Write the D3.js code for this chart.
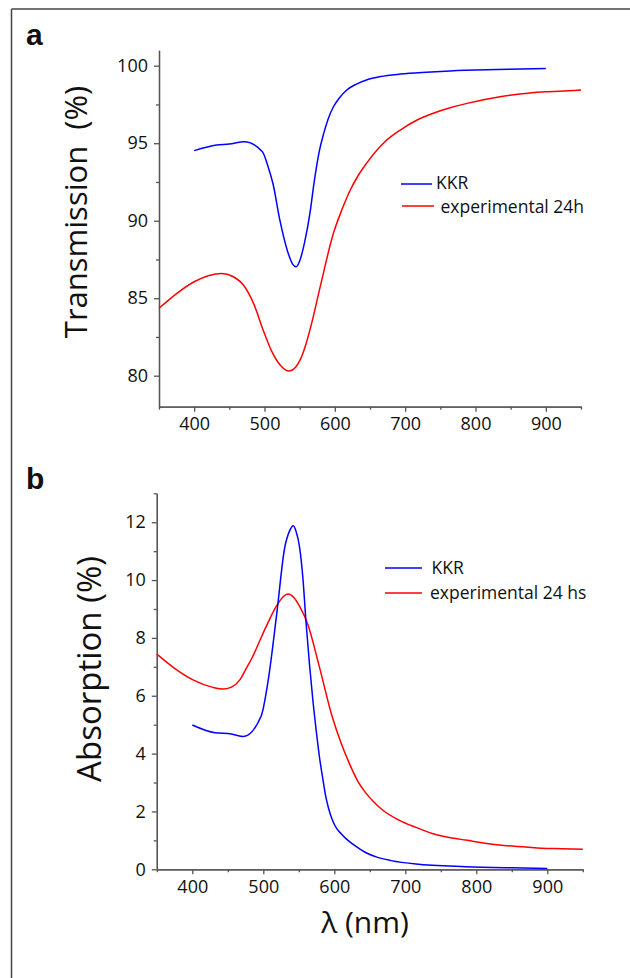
<!DOCTYPE html>
<html>
<head>
<meta charset="utf-8">
<script src="https://cdn.jsdelivr.net/npm/d3@7"></script>
<style>
  body { margin: 0; background: #fff; }
  svg text { font-family: "Open Sans", "Noto Sans", sans-serif; fill: #111; }
</style>
</head>
<body>
<div id="my_dataviz"></div>
<script>
// wavelength (nm) / value pairs
const transKKR = [[400,94.52],[432,94.88],[450,94.95],[471,95.1],[497,94.45],[505,93.5],[512,92.4],[522,90.0],[533,88.0],[540,87.2],[545,87.03],[550,87.4],[557,88.6],[565,90.6],[570,92.3],[578,94.5],[584,95.6],[590,96.5],[598,97.35],[607,97.95],[617,98.43],[630,98.8],[645,99.08],[665,99.3],[693,99.46],[730,99.58],[764,99.66],[830,99.75],[900,99.82]];
const transExp = [[350,84.35],[375,85.3],[400,86.06],[420,86.45],[439,86.6],[455,86.4],[470,85.85],[485,84.6],[498,82.95],[510,81.6],[522,80.7],[534,80.3],[545,80.6],[551,81.05],[558,81.9],[566,83.2],[579,85.7],[598,89.19],[610,90.7],[622,91.98],[633,92.9],[645,93.7],[669,95.0],[693,95.85],[715,96.45],[740,96.93],[765,97.3],[788,97.57],[835,98.0],[870,98.2],[899,98.32],[920,98.35],[950,98.43]];
const absKKR = [[400,4.99],[432,4.72],[455,4.68],[472,4.59],[497,5.30],[507,6.55],[519,8.85],[530,11.1],[537,11.7],[542,11.88],[546,11.7],[551,11.15],[556,10.0],[560,8.6],[565,7.1],[570,5.8],[575,4.7],[579,3.9],[584,3.1],[588,2.51],[592,2.1],[597,1.72],[603,1.42],[610,1.22],[616,1.07],[630,0.8],[644,0.58],[660,0.42],[680,0.3],[715,0.18],[785,0.09],[850,0.05],[900,0.03]];
const absExp = [[350,7.44],[375,6.95],[401,6.55],[429,6.29],[443,6.23],[455,6.3],[467,6.55],[476,6.95],[485,7.35],[495,7.9],[504,8.39],[518,9.08],[527,9.4],[535,9.52],[543,9.4],[551,9.1],[563,8.45],[579,7.0],[597,5.28],[609,4.4],[621,3.67],[633,3.05],[644,2.65],[656,2.32],[668,2.05],[691,1.70],[715,1.45],[738,1.24],[762,1.1],[785,1.01],[832,0.84],[870,0.77],[892,0.73],[920,0.71],[950,0.69]];

const xMajor = [400, 500, 600, 700, 800, 900];
const xMinor = [350, 450, 550, 650, 750, 850, 950];
const transMajor = [80, 85, 90, 95, 100];
const transMinor = [82.5, 87.5, 92.5, 97.5];
const absMajor = [0, 2, 4, 6, 8, 10, 12];
const absMinor = [1, 3, 5, 7, 9, 11, 13];

const legendA = ["KKR", " experimental 24h"];
const legendB = [" KKR", "experimental 24 hs"];

const width = 630, height = 978;

const svg = d3.select("#my_dataviz")
    .append("svg")
    .attr("width", width)
    .attr("height", height);

// frame lines (top + left only are visible)
svg.append("line").attr("x1", 11.5).attr("x2", width).attr("y1", 9).attr("y2", 9)
    .attr("stroke", "#444").attr("stroke-width", 1.5);
svg.append("line").attr("x1", 11.5).attr("x2", 11.5).attr("y1", 9).attr("y2", height)
    .attr("stroke", "#444").attr("stroke-width", 1.5);

function drawPanel(opt) {
    const x = d3.scaleLinear().domain([350, 950]).range(opt.xRange);
    const y = d3.scaleLinear().domain(opt.yDomain).range(opt.yRange);
    const g = svg.append("g");

    // x axis
    g.append("g")
        .attr("transform", `translate(0,${opt.yRange[0]})`)
        .call(d3.axisBottom(x).tickValues(xMajor).tickSize(5).tickSizeOuter(0).tickPadding(6));
    g.append("g")
        .attr("transform", `translate(0,${opt.yRange[0]})`)
        .call(d3.axisBottom(x).tickValues(xMinor).tickSize(3).tickSizeOuter(0).tickFormat(""));

    // y axis
    g.append("g")
        .attr("transform", `translate(${opt.xRange[0]},0)`)
        .call(d3.axisLeft(y).tickValues(opt.major).tickSize(5).tickSizeOuter(0).tickPadding(6));
    g.append("g")
        .attr("transform", `translate(${opt.xRange[0]},0)`)
        .call(d3.axisLeft(y).tickValues(opt.minor).tickSize(3).tickSizeOuter(0).tickFormat(""));

    g.selectAll(".domain, .tick line").attr("stroke", "#555").attr("stroke-width", 1.3);
    g.selectAll(".tick text").style("font-size", "18px").attr("fill", "#111");

    const line = d3.line()
        .x(d => x(d[0]))
        .y(d => y(d[1]))
        .curve(d3.curveMonotoneX);

    g.append("path").datum(opt.red).attr("d", line)
        .attr("fill", "none").attr("stroke", "#ff0000").attr("stroke-width", 1.5);
    g.append("path").datum(opt.blue).attr("d", line)
        .attr("fill", "none").attr("stroke", "#0000ff").attr("stroke-width", 1.5);

    // legend
    const colors = ["#0000ff", "#ff0000"];
    opt.legend.forEach((txt, i) => {
        const l = opt.legendPos[i];
        g.append("line")
            .attr("x1", l.x1).attr("x2", l.x2).attr("y1", l.y).attr("y2", l.y)
            .attr("stroke", colors[i]).attr("stroke-width", 1.5);
        g.append("text")
            .attr("x", l.tx).attr("y", l.ty)
            .style("font-size", "17.5px")
            .style("white-space", "pre")
            .text(txt);
    });

    // y label
    g.append("text")
        .attr("transform", `translate(${opt.yLabelX},${opt.yLabelY}) rotate(-90)`)
        .attr("text-anchor", "middle")
        .style("font-size", opt.yLabelSize)
        .style("white-space", "pre")
        .text(opt.yLabel);

    // panel letter
    g.append("text")
        .attr("x", 26).attr("y", opt.letterY)
        .style("font-family", "'Liberation Sans', Arial, sans-serif")
        .style("font-weight", "bold")
        .style("font-size", "30px")
        .text(opt.letter);
}

drawPanel({
    xRange: [159, 581],
    yDomain: [78, 101],
    yRange: [406.7, 50.2],
    major: transMajor,
    minor: transMinor,
    blue: transKKR,
    red: transExp,
    legend: legendA,
    legendPos: [{ x1: 401, x2: 432, y: 184, tx: 436, ty: 189 }, { x1: 402, x2: 434, y: 206, tx: 436, ty: 213 }],
    yLabel: "Transmission  (%)",
    yLabelSize: "31px",
    yLabelX: 87,
    yLabelY: 212,
    letter: "a",
    letterY: 45
});

drawPanel({
    xRange: [156.8, 582.8],
    yDomain: [0, 13],
    yRange: [869.3, 493.3],
    major: absMajor,
    minor: absMinor,
    blue: absKKR,
    red: absExp,
    legend: legendB,
    legendPos: [{ x1: 385, x2: 422, y: 568, tx: 427, ty: 574 }, { x1: 385, x2: 422, y: 593, tx: 430, ty: 599 }],
    yLabel: "Absorption (%)",
    yLabelSize: "33px",
    yLabelX: 101,
    yLabelY: 669,
    letter: "b",
    letterY: 489
});

// x label
svg.append("text")
    .attr("x", 365)
    .attr("y", 933)
    .attr("text-anchor", "middle")
    .style("font-size", "30px")
    .text("λ (nm)");
</script>
</body>
</html>
